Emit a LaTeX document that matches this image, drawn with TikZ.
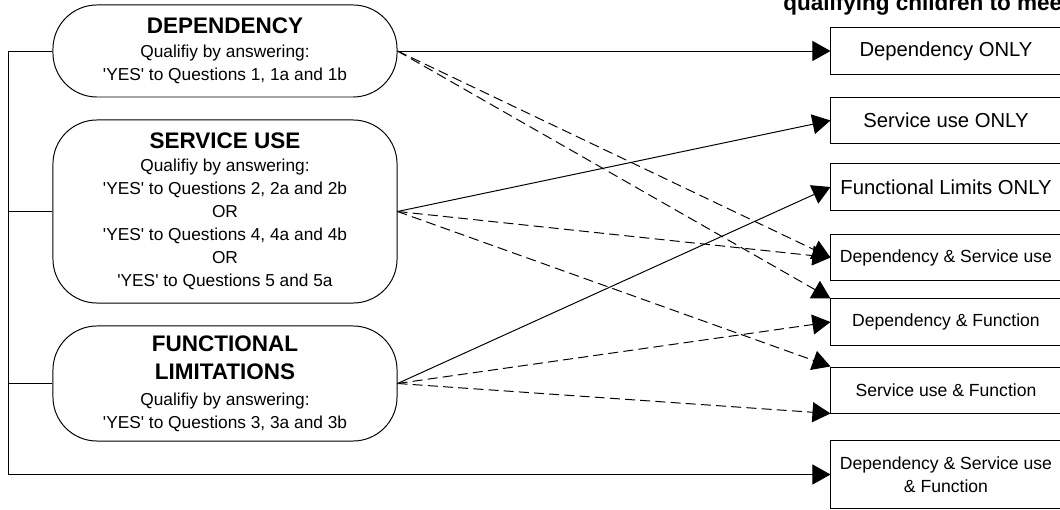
\documentclass[tikz,border=0pt]{standalone}
\usepackage{fontspec}
\setmainfont{Liberation Sans}
\usetikzlibrary{arrows.meta}

\begin{document}
\begin{tikzpicture}[x=0.025cm,y=-0.025cm]
\tikzstyle{every node}+=[inner sep=0pt]
\tikzstyle{group}=[draw=black, line width=0.7pt, rounded corners=1.1cm, minimum width=8.6cm, align=center, font=\fontsize{12.3}{16.4}\selectfont]
\tikzstyle{outcome}=[draw=black, line width=0.7pt, minimum width=5.75cm, minimum height=1.15cm, align=center, font=\fontsize{12.5}{16.4}\selectfont]
\tikzstyle{link}=[black, line width=0.7pt, -{Triangle[length=0.45cm,width=0.5cm]}]
\tikzstyle{maybe}=[link, dash pattern=on 0.25cm off 0.13cm]
\clip (0,0) rectangle (1060,510);
\node [anchor=base west, font=\bfseries\fontsize{16}{19}\selectfont] (title) at (783,11) {qualifying children to meet};
\node [group, minimum height=2.3cm] (dep) at (225,51) {{\bfseries\fontsize{16}{19}\selectfont DEPENDENCY}\\[0.5pt] Qualifiy by answering:\\ \textquotesingle YES\textquotesingle{} to Questions 1, 1a and 1b};
\node [group, minimum height=4.575cm] (svc) at (225,211.5) {{\bfseries\fontsize{16}{19}\selectfont SERVICE USE}\\ Qualifiy by answering:\\ \textquotesingle YES\textquotesingle{} to Questions 2, 2a and 2b\\ OR\\ \textquotesingle YES\textquotesingle{} to Questions 4, 4a and 4b\\ OR\\ \textquotesingle YES\textquotesingle{} to Questions 5 and 5a};
\node [group, minimum height=2.875cm] (fun) at (225,383.5) {{\bfseries\fontsize{16}{19}\selectfont FUNCTIONAL}\\[4pt] {\bfseries\fontsize{16}{19}\selectfont LIMITATIONS}\\[1.5pt] Qualifiy by answering:\\ \textquotesingle YES\textquotesingle{} to Questions 3, 3a and 3b};
\node [outcome, font=\fontsize{14.4}{17}\selectfont] (depOnly) at (946,51) {Dependency ONLY};
\node [outcome, font=\fontsize{14.4}{17}\selectfont] (svcOnly) at (946,120.5) {Service use ONLY};
\node [outcome, font=\fontsize{14.4}{17}\selectfont] (funOnly) at (946,187) {Functional Limits ONLY};
\node [outcome] (depSvc) at (946,257.5) {Dependency \& Service use};
\node [outcome] (depFun) at (946,322) {Dependency \& Function};
\node [outcome] (svcFun) at (946,390) {Service use \& Function};
\node [outcome, minimum height=1.675cm] (allThree) at (946,474.5) {Dependency \& Service use\\ \& Function};
\coordinate (bus) at (8,474.5);
\draw [link] (dep.west) -| (bus) -- (allThree.west);
\draw [black, line width=0.7pt] (svc.west) -- (svc.west -| bus);
\draw [black, line width=0.7pt] (fun.west) -- (fun.west -| bus);
\draw [link] (dep.east) -- (depOnly.west);
\draw [maybe] (dep.east) -- (depSvc.west);
\draw [maybe] (dep.east) -- (depFun.north west);
\draw [link] (svc.east) -- (svcOnly.west);
\draw [maybe] (svc.east) -- (depSvc.west);
\draw [maybe] (svc.east) -- (svcFun.north west);
\draw [link] (fun.east) -- (funOnly.west);
\draw [maybe] (fun.east) -- (depFun.west);
\draw [maybe] (fun.east) -- (svcFun.south west);
\end{tikzpicture}
\end{document}
